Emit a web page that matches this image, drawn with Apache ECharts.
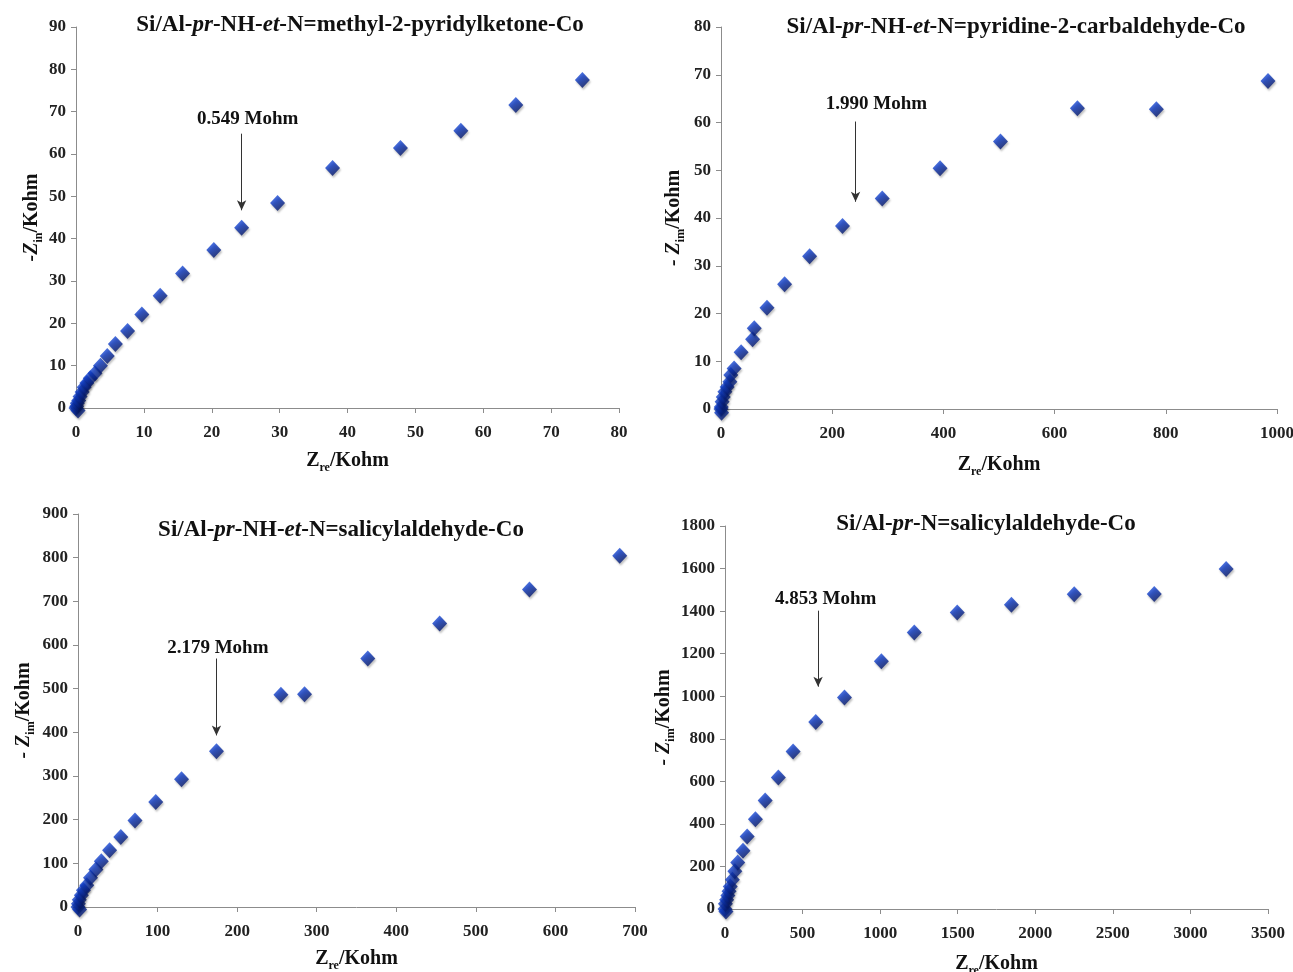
<!DOCTYPE html>
<html>
<head>
<meta charset="utf-8">
<script src="https://cdn.jsdelivr.net/npm/echarts@6/dist/echarts.min.js"></script>
<style>
  html, body { margin: 0; padding: 0; background: #fff; }
  #chart { width: 1293px; height: 972px; }
</style>
</head>
<body>
<div id="chart"></div>
<script>
// Nyquist data (Z' and -Z'' in kOhm) for the four Co complexes
const zre1 = [0.0, 0.3, 0.1, 0.2, 0.4, 0.6, 0.9, 1.2, 1.6, 2.1, 2.8, 3.6, 4.6, 5.8, 7.6, 9.7, 12.4, 15.7, 20.3, 24.4, 29.7, 37.8, 47.8, 56.7, 64.8, 74.6];
const zim1 = [0.0, -0.6, 0.4, 1.1, 1.8, 2.7, 3.8, 4.9, 5.9, 7.0, 8.2, 10.0, 12.3, 15.1, 18.2, 22.1, 26.5, 31.8, 37.3, 42.6, 48.4, 56.7, 61.4, 65.5, 71.6, 77.5];

const zre2 = [0, 1.0, 0.5, 2, 4, 7, 11, 16, 17.7, 23.6, 36.2, 56.8, 59.8, 82.7, 114.4, 159.4, 218.5, 290, 394, 502.6, 641, 783, 983.8];
const zim2 = [0, -0.8, 0.4, 1.5, 2.5, 3.6, 4.6, 5.7, 7.1, 8.5, 11.9, 14.6, 16.9, 21.2, 26.1, 32.0, 38.3, 44.1, 50.4, 56.0, 63.0, 62.8, 68.7];

const zre3 = [0, 2, 0.5, 1.6, 4.2, 6.8, 11, 15.7, 22.5, 29.3, 39.7, 53.8, 71.6, 97.7, 130.1, 174, 255, 284.7, 364.2, 454.5, 567.4, 680.8];
const zim3 = [0, -6, 7.6, 16.8, 26.7, 38.2, 49.7, 67.2, 85.6, 104.7, 129.9, 160.4, 197.9, 240.6, 292.6, 356.8, 485.9, 487.4, 569.1, 649.3, 727.3, 804.4];

const zre4 = [0, 6, 2.6, 10.6, 18.5, 26, 34, 47.6, 63.5, 82, 116, 143, 196, 259, 344, 439, 585, 770, 1008, 1220, 1497, 1846, 2251, 2767, 3230];
const zim4 = [0, -12, 25, 44, 63, 83, 106, 138, 177, 219, 274, 341, 422, 510, 618, 740, 879, 994, 1164, 1300, 1394, 1430, 1479, 1480, 1598];

// Panel titles (plain part, italic part, ...)
const titles = [
  ['Si/Al-', 'pr', '-NH-', 'et', '-N=methyl-2-pyridylketone-Co'],
  ['Si/Al-', 'pr', '-NH-', 'et', '-N=pyridine-2-carbaldehyde-Co'],
  ['Si/Al-', 'pr', '-NH-', 'et', '-N=salicylaldehyde-Co'],
  ['Si/Al-', 'pr', '-N=salicylaldehyde-Co']
];

// Axis ranges and tick spacing
const xMax = [80, 1000, 700, 3500];
const xStep = [10, 200, 100, 500];
const yMax = [90, 80, 900, 1800];
const yStep = [10, 10, 100, 200];
const ySub = ['in', 'im', 'im', 'im'];
const yPrefix = ['-', '- ', '- ', '- '];

// Resistance annotations: arrow x, arrow top, arrow tip, label x, label y, text
const arrowX = [24.4, 242, 174, 600];
const arrowTop = [64.8, 60.2, 569, 1402];
const arrowTip = [46.7, 43.4, 393, 1045];
const labelX = [25.3, 279.7, 175.7, 649];
const labelY = [68.3, 63.9, 594, 1457];
const labelText = ['0.549 Mohm', '1.990 Mohm', '2.179 Mohm', '4.853 Mohm'];

const zre = [zre1, zre2, zre3, zre4];
const zim = [zim1, zim2, zim3, zim4];

const FONT = "'Liberation Serif', 'Times New Roman', serif";

const grids = [
  { left: 76, top: 27, width: 543, height: 381, outerBoundsMode: 'none' },
  { left: 721, top: 27, width: 556, height: 382, outerBoundsMode: 'none' },
  { left: 78, top: 514, width: 557, height: 393, outerBoundsMode: 'none' },
  { left: 725, top: 526, width: 543, height: 383, outerBoundsMode: 'none' }
];
const titlePos = [
  { left: 355, top: 9 },
  { left: 1011, top: 11 },
  { left: 336, top: 514 },
  { left: 981, top: 508 }
];
const yNameGap = [29, 34, 41, 45];
const xNameGap = [40, 43, 39, 42];

const diamondColor = {
  type: 'linear', x: 0, y: 0, x2: 0.6, y2: 1,
  colorStops: [
    { offset: 0, color: '#2c60ea' },
    { offset: 0.45, color: '#0c38c0' },
    { offset: 1, color: '#051663' }
  ]
};

function titleRich(parts) {
  return parts.map((p, i) => (i % 2 === 1 ? '{i|' + p + '}' : '{b|' + p + '}')).join('');
}

const plainNumber = (v) => String(v);

const option = {
  backgroundColor: '#ffffff',
  animation: false,
  title: titles.map((t, i) => ({
    text: titleRich(t),
    left: titlePos[i].left,
    top: titlePos[i].top,
    textAlign: 'center',
    textStyle: {
      rich: {
        b: { fontFamily: FONT, fontWeight: 'bold', fontSize: 23, color: '#111' },
        i: { fontFamily: FONT, fontWeight: 'bold', fontStyle: 'italic', fontSize: 23, color: '#111' }
      }
    }
  })),
  grid: grids,
  xAxis: xMax.map((m, i) => ({
    type: 'value',
    gridIndex: i,
    min: 0,
    max: m,
    interval: xStep[i],
    name: '{z|Z}{s|re}{n|/Kohm}',
    nameLocation: 'middle',
    nameGap: xNameGap[i],
    nameTextStyle: {
      rich: {
        z: { fontFamily: FONT, fontWeight: 'bold', fontSize: 20, color: '#111', lineHeight: 26, verticalAlign: 'middle' },
        s: { fontFamily: FONT, fontWeight: 'bold', fontSize: 12, color: '#111', lineHeight: 12, verticalAlign: 'bottom' },
        n: { fontFamily: FONT, fontWeight: 'bold', fontSize: 20, color: '#111', lineHeight: 26, verticalAlign: 'middle' }
      }
    },
    splitLine: { show: false },
    axisLine: { show: true, onZero: false, lineStyle: { color: '#8c8c8c', width: 1 } },
    axisTick: { show: true, length: 5, lineStyle: { color: '#8c8c8c' } },
    axisLabel: { margin: 16, formatter: plainNumber, fontFamily: FONT, fontWeight: 'bold', fontSize: 17, color: '#222' }
  })),
  yAxis: yMax.map((m, i) => ({
    type: 'value',
    gridIndex: i,
    min: 0,
    max: m,
    interval: yStep[i],
    name: '{z|' + yPrefix[i] + 'Z}{s|' + ySub[i] + '}{n|/Kohm}',
    nameLocation: 'middle',
    nameGap: yNameGap[i],
    nameTextStyle: {
      rich: {
        z: { fontFamily: FONT, fontWeight: 'bold', fontStyle: 'italic', fontSize: 20, color: '#111', lineHeight: 26, verticalAlign: 'middle' },
        s: { fontFamily: FONT, fontWeight: 'bold', fontSize: 12, color: '#111', lineHeight: 12, verticalAlign: 'bottom' },
        n: { fontFamily: FONT, fontWeight: 'bold', fontSize: 20, color: '#111', lineHeight: 26, verticalAlign: 'middle' }
      }
    },
    splitLine: { show: false },
    axisLine: { show: true, onZero: false, lineStyle: { color: '#8c8c8c', width: 1 } },
    axisTick: { show: true, length: 5, lineStyle: { color: '#8c8c8c' } },
    axisLabel: { margin: 10, formatter: plainNumber, fontFamily: FONT, fontWeight: 'bold', fontSize: 17, color: '#222' }
  })),
  series: zre.map((xs, i) => ({
    type: 'scatter',
    xAxisIndex: i,
    yAxisIndex: i,
    symbol: 'diamond',
    symbolSize: [15, 16],
    clip: false,
    itemStyle: {
      color: diamondColor,
      shadowColor: 'rgba(0,0,0,0.3)',
      shadowBlur: 2,
      shadowOffsetX: 1,
      shadowOffsetY: 2
    },
    data: xs.map((x, k) => [x, zim[i][k]]),
    markLine: {
      silent: true,
      symbol: ['none', 'arrow'],
      symbolSize: [7, 10],
      lineStyle: { color: '#333', width: 1, type: 'solid' },
      label: { show: false },
      data: [[{ coord: [arrowX[i], arrowTop[i]] }, { coord: [arrowX[i], arrowTip[i]] }]]
    },
    markPoint: {
      silent: true,
      symbol: 'circle',
      symbolSize: 0,
      itemStyle: { color: 'rgba(0,0,0,0)' },
      label: {
        show: true,
        position: 'inside',
        formatter: labelText[i],
        fontFamily: FONT,
        fontWeight: 'bold',
        fontSize: 19,
        color: '#111'
      },
      data: [{ coord: [labelX[i], labelY[i]] }]
    }
  }))
};

const chart = echarts.init(document.getElementById('chart'), null, { renderer: 'canvas' });
chart.setOption(option);
</script>
</body>
</html>
